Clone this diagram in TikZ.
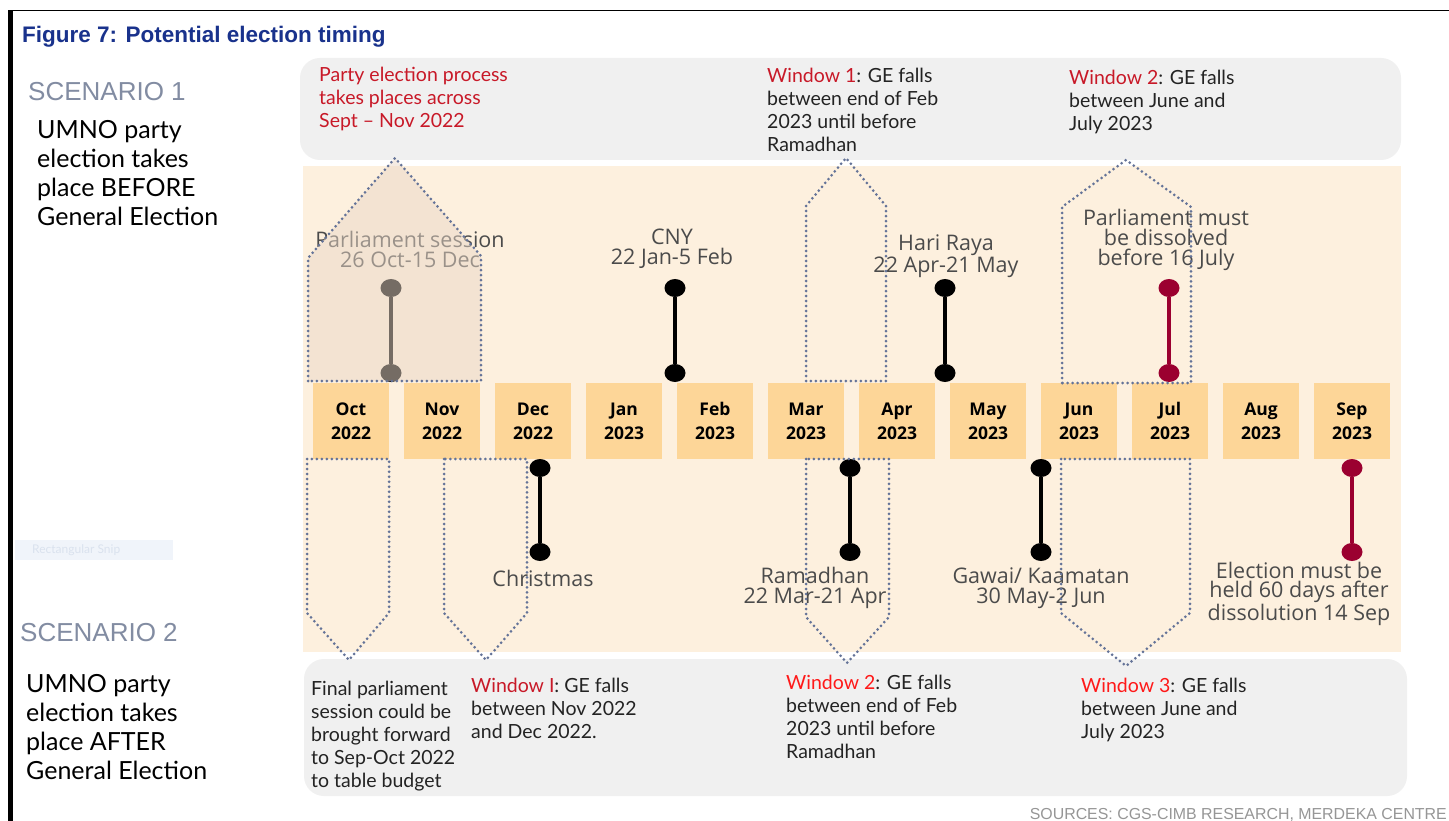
\documentclass[tikz,border=0pt]{standalone}
\usepackage{fontspec}
\setmainfont{Lato}
\newfontfamily\arialf{Liberation Sans}
\newfontfamily\opensans{Open Sans}
\usetikzlibrary{shapes.geometric}
\newcommand\setfs[2]{\fontsize{#1}{#2}\selectfont}
\definecolor{titleblue}{RGB}{25,50,140}
\definecolor{scengray}{RGB}{130,140,162}
\definecolor{bandgray}{RGB}{240,240,240}
\definecolor{beige}{RGB}{253,240,222}
\definecolor{monthc}{RGB}{253,214,152}
\definecolor{dotblue}{RGB}{100,115,152}
\definecolor{crimson}{RGB}{155,0,48}
\definecolor{labelgray}{RGB}{75,75,75}
\definecolor{darkred}{RGB}{200,25,40}
\definecolor{brightred}{RGB}{255,25,25}
\definecolor{bodytext}{RGB}{35,35,35}
\definecolor{parlfill}{RGB}{234,216,200}
\definecolor{srcgray}{RGB}{150,150,150}
\begin{document}
\begin{tikzpicture}[x=1pt,y=-1pt,
  monthbox/.style={fill=monthc, minimum width=76, minimum height=76, inner sep=0, align=center, font=\opensans\bfseries\setfs{17.5}{24}},
  dot/.style={ellipse, minimum width=21, minimum height=18, inner sep=0, fill=#1},
  bar/.style={line width=4.5, draw=#1},
  evlabel/.style={align=center, inner sep=0, text=labelgray, font=\opensans\setfs{21.5}{20}},
  bandtext/.style={align=left, inner sep=0, anchor=north west, text=bodytext, font=\setfs{19.5}{23}},
  pent/.style={draw=dotblue, line width=3, dash pattern=on 0pt off 5pt, line cap=round, line join=round},
  scen/.style={anchor=base west, inner sep=0, text=scengray, font=\arialf\setfs{26}{30}},
  umno/.style={align=left, anchor=north west, inner sep=0, text=black, font=\setfs{25}{29}}
]
\useasboundingbox (0,0) rectangle (1449,821);
\fill[white] (0,0) rectangle (1449,821);
% frame
\fill[black] (8,10) rectangle (13,821);
\draw[black, line width=1.5] (8,10.5) -- (1449,10.5);
% title
\node[anchor=base west, inner sep=0, text=titleblue, font=\arialf\bfseries\setfs{22.5}{26}] (title) at (22,43) {Figure 7: Potential election timing};
% left texts
\node[scen] (sc1) at (28,101) {SCENARIO 1};
\node[umno] (u1) at (37,120) {UMNO party\\election takes\\place BEFORE\\General Election};
\node[fill={rgb,255:red,240;green,244;blue,250}, minimum width=158, minimum height=20, inner sep=0, anchor=north west] (snip) at (15,540) {};
\node[anchor=west, inner sep=0, text={rgb,255:red,218;green,226;blue,238}, font=\setfs{12}{13}] (sniptxt) at (32,550) {Rectangular Snip};
\node[scen] (sc2) at (20,641) {SCENARIO 2};
\node[umno] (u2) at (26,674) {UMNO party\\election takes\\place AFTER\\General Election};
% bands
\fill[bandgray, rounded corners=20] (300,58) rectangle (1401,160);
\fill[beige] (303,166) rectangle (1401,652);
\fill[bandgray, rounded corners=20] (304,659) rectangle (1407,796);
% month boxes
\foreach \i/\m/\yy in {0/Oct/2022,1/Nov/2022,2/Dec/2022,3/Jan/2023,4/Feb/2023,5/Mar/2023,6/Apr/2023,7/May/2023,8/Jun/2023,9/Jul/2023,10/Aug/2023,11/Sep/2023}
  \node[monthbox] (m\i) at (351+91*\i,421) {\m\\\yy};
% event labels
\node[evlabel] (lparl) at (410,249) {Parliament session\\26 Oct-15 Dec};
\node[evlabel] (lcny) at (672,249) {CNY\\22 Jan-5 Feb};
\node[evlabel] (lhr) at (946,256) {Hari Raya\\22 Apr-21 May};
\node[evlabel] (ldis) at (1166,240) {Parliament must\\be dissolved\\before 16 July};
\node[evlabel] (lxmas) at (543,578) {Christmas};
\node[evlabel] (lram) at (815,588) {Ramadhan\\22 Mar-21 Apr};
\node[evlabel] (lgaw) at (1041,588) {Gawai/ Kaamatan\\30 May-2 Jun};
\node[evlabel, font=\opensans\setfs{21.5}{19}] (lel) at (1299,594) {Election must be\\held 60 days after\\dissolution 14 Sep};
% dumbbells top
\node[dot=black] (pa) at (391,288) {};
\node[dot=black] (pb) at (391,373) {};
\draw[bar=black] (pa) -- (pb);
\node[dot=black] (ca) at (675,288) {};
\node[dot=black] (cb) at (675,373) {};
\draw[bar=black] (ca) -- (cb);
\node[dot=black] (ha) at (945,288) {};
\node[dot=black] (hb) at (945,373) {};
\draw[bar=black] (ha) -- (hb);
\node[dot=crimson] (da) at (1169,288) {};
\node[dot=crimson] (db) at (1169,373) {};
\draw[bar=crimson] (da) -- (db);
% dumbbells bottom
\node[dot=black] (xa) at (540,468) {};
\node[dot=black] (xb) at (540,552) {};
\draw[bar=black] (xa) -- (xb);
\node[dot=black] (ra) at (850,468) {};
\node[dot=black] (rb) at (850,552) {};
\draw[bar=black] (ra) -- (rb);
\node[dot=black] (ga) at (1041,468) {};
\node[dot=black] (gb) at (1041,552) {};
\draw[bar=black] (ga) -- (gb);
\node[dot=crimson] (ea) at (1352,468) {};
\node[dot=crimson] (eb) at (1352,552) {};
\draw[bar=crimson] (ea) -- (eb);
% pentagons
\fill[parlfill, fill opacity=0.5] (308,381) -- (308,258) -- (395,158) -- (481,256) -- (481,381) -- cycle;
\draw[pent] (308,381) -- (308,258) -- (395,158) -- (481,256) -- (481,381) -- cycle;
\draw[pent] (806,381) -- (806,206) -- (846,158) -- (886,206) -- (886,381) -- cycle;
\draw[pent] (1062,383) -- (1062,207) -- (1126,160) -- (1191,207) -- (1191,383) -- cycle;
\draw[pent] (307,459) -- (307,613) -- (349,660) -- (389,613) -- (389,459) -- cycle;
\draw[pent] (444,459) -- (444,613) -- (486,660) -- (527,613) -- (527,459) -- cycle;
\draw[pent] (806,459) -- (806,617) -- (847,663) -- (889,617) -- (889,459) -- cycle;
\draw[pent] (1061,459) -- (1061,613) -- (1126,666) -- (1190,613) -- (1190,459) -- cycle;
% band texts top
\node[bandtext, text=darkred] (tparty) at (319,67) {Party election process\\takes places across\\Sept -- Nov 2022};
\node[bandtext] (tw1) at (767,68) {\textcolor{darkred}{Window 1}: GE falls\\between end of Feb\\2023 until before\\Ramadhan};
\node[bandtext] (tw2) at (1069,70) {\textcolor{darkred}{Window 2}: GE falls\\between June and\\July 2023};
% band texts bottom
\node[bandtext] (bfin) at (311,681) {Final parliament\\session could be\\brought forward\\to Sep-Oct 2022\\to table budget};
\node[bandtext] (bw1) at (471,678) {\textcolor{darkred}{Window I}: GE falls\\between Nov 2022\\and Dec 2022.};
\node[bandtext] (bw2) at (786,675) {\textcolor{brightred}{Window 2}: GE falls\\between end of Feb\\2023 until before\\Ramadhan};
\node[bandtext] (bw3) at (1081,678) {\textcolor{brightred}{Window 3}: GE falls\\between June and\\July 2023};
% sources
\node[anchor=base east, inner sep=0, text=srcgray, font=\arialf\setfs{15.9}{18}] (src) at (1447,819) {SOURCES: CGS-CIMB RESEARCH, MERDEKA CENTRE};
\end{tikzpicture}
\end{document}
